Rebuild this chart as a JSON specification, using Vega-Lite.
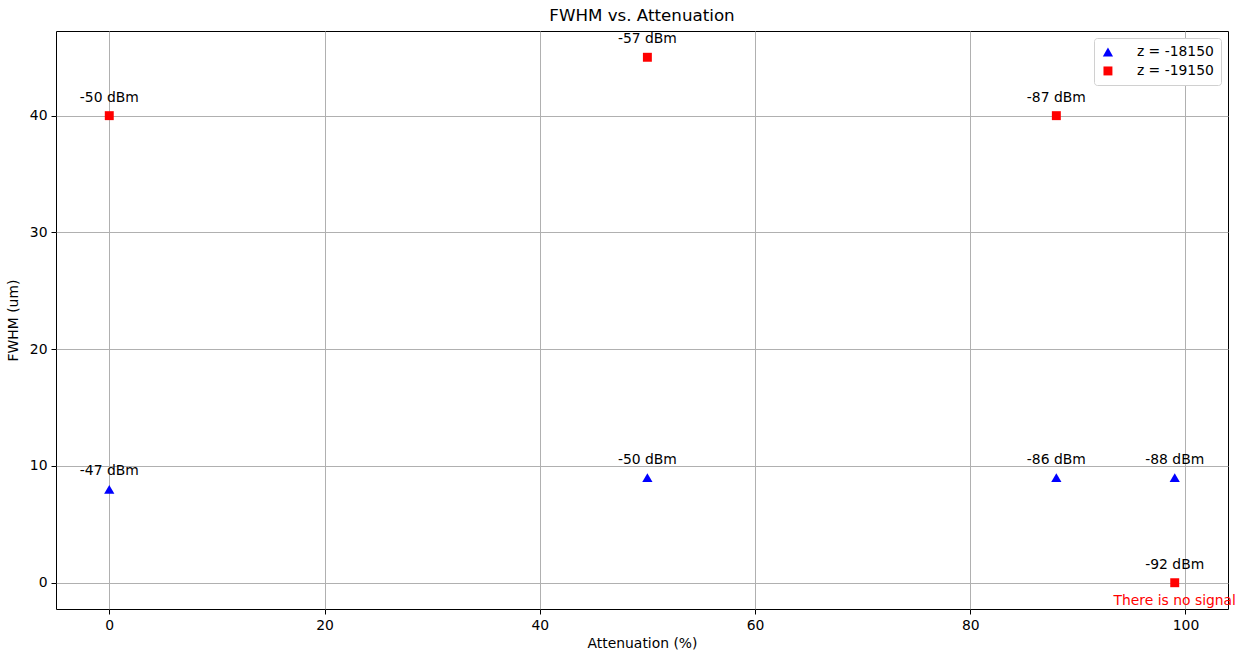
{
  "$schema": "https://vega.github.io/schema/vega-lite/v6.json",
  "autosize": "none",
  "padding": {"left": 56, "top": 31, "right": 7, "bottom": 42},
  "width": 1172,
  "height": 578,
  "background": "white",
  "title": {"text": "FWHM vs. Attenuation", "font": "DejaVu Sans", "fontSize": 16.7, "fontWeight": "normal", "color": "black", "offset": 6},
  "config": {
    "view": {"stroke": "black", "strokeWidth": 1},
    "axis": {
      "labelFont": "DejaVu Sans", "labelFontSize": 13.9, "labelColor": "black",
      "titleFont": "DejaVu Sans", "titleFontSize": 13.9, "titleFontWeight": "normal", "titleColor": "black",
      "gridColor": "#b0b0b0", "gridWidth": 1, "gridOpacity": 1,
      "tickColor": "black", "tickSize": 5, "domain": false, "labelPadding": 4
    }
  },
  "data": {
    "values": [
      {"att": 0, "fwhm": 8, "series": "z = -18150", "label": "-47 dBm"},
      {"att": 50, "fwhm": 9, "series": "z = -18150", "label": "-50 dBm"},
      {"att": 88, "fwhm": 9, "series": "z = -18150", "label": "-86 dBm"},
      {"att": 99, "fwhm": 9, "series": "z = -18150", "label": "-88 dBm"},
      {"att": 0, "fwhm": 40, "series": "z = -19150", "label": "-50 dBm"},
      {"att": 50, "fwhm": 45, "series": "z = -19150", "label": "-57 dBm"},
      {"att": 88, "fwhm": 40, "series": "z = -19150", "label": "-87 dBm"},
      {"att": 99, "fwhm": 0, "series": "z = -19150", "label": "-92 dBm", "note": "There is no signal"}
    ]
  },
  "encoding": {
    "x": {"field": "att", "type": "quantitative", "scale": {"domain": [-4.95, 103.95], "nice": false, "zero": false},
      "axis": {"values": [0, 20, 40, 60, 80, 100], "title": "Attenuation (%)", "titlePadding": 5}},
    "y": {"field": "fwhm", "type": "quantitative", "scale": {"domain": [-2.25, 47.25], "nice": false, "zero": false},
      "axis": {"values": [0, 10, 20, 30, 40], "title": "FWHM (um)", "titlePadding": 9}}
  },
  "layer": [
    {
      "mark": {"type": "point", "filled": true, "opacity": 1},
      "encoding": {
        "color": {"field": "series", "type": "nominal", "scale": {"domain": ["z = -18150", "z = -19150"], "range": ["blue", "red"]},
          "legend": {"title": null, "orient": "top-right", "offset": 7, "labelFont": "DejaVu Sans", "labelFontSize": 13.9, "labelColor": "black",
            "strokeColor": "#d0d0d0", "fillColor": "white", "padding": 7, "cornerRadius": 3, "symbolSize": 90, "labelOffset": 22, "rowPadding": 4}},
        "shape": {"field": "series", "type": "nominal", "scale": {"domain": ["z = -18150", "z = -19150"], "range": ["triangle-up", "square"]}},
        "size": {"field": "series", "type": "nominal", "scale": {"domain": ["z = -18150", "z = -19150"], "range": [105, 80]}, "legend": null}
      }
    },
    {
      "mark": {"type": "text", "dy": -18, "font": "DejaVu Sans", "fontSize": 13.9, "color": "black"},
      "encoding": {"text": {"field": "label"}}
    },
    {
      "transform": [{"filter": "datum.note"}],
      "mark": {"type": "text", "dy": 18, "font": "DejaVu Sans", "fontSize": 13.9, "color": "red"},
      "encoding": {"text": {"field": "note"}}
    }
  ]
}
